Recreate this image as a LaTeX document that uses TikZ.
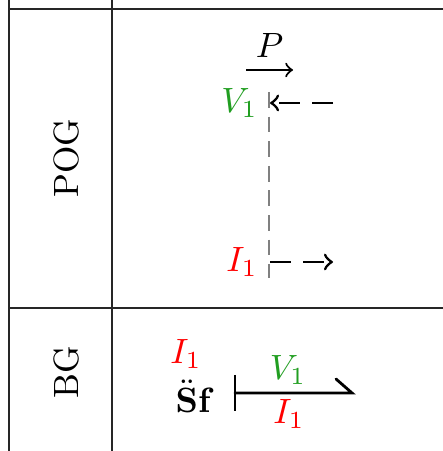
\documentclass[tikz,border=0pt]{standalone}
\usepackage{amsmath}
\usepackage{amssymb}
\usepackage{tikz}
\usepackage{xcolor}
\definecolor{vgreen}{rgb}{0.13,0.62,0.13}

\begin{document}
\begin{tikzpicture}[
    rule/.style={semithick,black!85},
    flow/.style={thick,dash pattern=on 6pt off 3.5pt,->}]
    \useasboundingbox (0,0) rectangle (4.43,4.51);
    % table
    \draw[rule] (0.09,4.51)--(0.09,0);
    \draw[rule] (1.12,4.51)--(1.12,0);
    \draw[rule] (0.09,4.42)--(4.43,4.42);
    \draw[rule] (0.09,1.43)--(4.43,1.43);
    \node[rotate=90] (pog) at (0.66,2.93) {POG};
    \node[rotate=90] (bg) at (0.66,0.79) {BG};

    % POG
    \coordinate (P1) at (2.46,3.81);
    \coordinate (P2) at (2.93,3.81);
    \draw[semithick,->] (P1)--(P2) node[midway,above]{$P$};
    \coordinate (top) at (2.69,3.59);
    \coordinate (bot) at (2.69,1.73);
    \draw[gray,dash pattern=on 4.5pt off 2.5pt] (top)--(bot);
    \node[vgreen,anchor=east] (V1) at (2.70,3.48) {$V_1$};
    \node[red,anchor=east] (I1) at (2.70,1.89) {$I_1$};
    \coordinate (V1s) at (3.33,3.48);
    \coordinate (V1e) at (2.70,3.48);
    \coordinate (I1s) at (2.70,1.89);
    \coordinate (I1e) at (3.33,1.89);
    \draw[flow] (V1s)--(V1e);
    \draw[flow] (I1s)--(I1e);

    % BG
    \node (Sf) at (1.95,0.55) {$\ddot{\mathbf{S}}\mathbf{f}$};
    \node[red] (I1a) at (1.86,0.97) {$I_1$};
    \coordinate (b1) at (2.35,0.58);
    \coordinate (b2) at (3.52,0.58);
    \coordinate (h) at (3.36,0.72);
    \draw[thick] (2.35,0.76)--(2.35,0.40);
    \draw[thick,line cap=round] (b1)--(b2)--(h);
    \node[vgreen] (V1b) at (2.88,0.81) {$V_1$};
    \node[red] (I1b) at (2.89,0.37) {$I_1$};
\end{tikzpicture}
\end{document}
